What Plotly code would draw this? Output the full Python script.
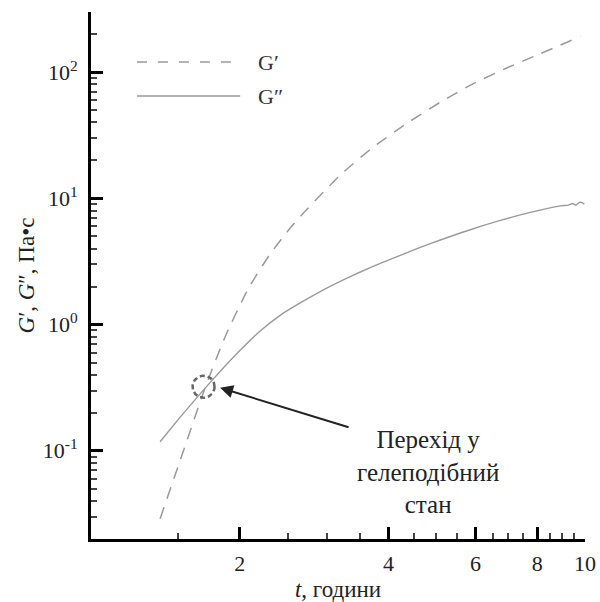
import math
import plotly.graph_objects as go

# ---- data ----
t_storage = [1.380, 1.529, 1.702, 1.868, 2.080, 2.305, 2.531, 2.739, 3.195, 3.727,
             4.367, 5.095, 5.94, 6.96, 8.12, 9.79]
G_storage = [0.029, 0.0929, 0.315, 0.798, 1.916, 3.625, 5.82, 8.23, 15.3, 25.5,
             39.5, 57.9, 81.1, 108.5, 140, 192]

t_loss = [1.380, 1.514, 1.663, 1.825, 2.004, 2.200, 2.415, 2.651, 2.911, 3.195, 3.508,
          3.851, 4.227, 4.640, 5.095, 5.593, 6.14, 6.74, 7.397, 8.12, 8.915,
          9.25, 9.44, 9.58, 9.72, 9.86, 9.97]
G_loss = [0.118, 0.1838, 0.2826, 0.425, 0.6255, 0.891, 1.184, 1.484, 1.827, 2.200, 2.611,
          3.054, 3.533, 4.089, 4.679, 5.316, 5.996, 6.688, 7.406, 8.08, 8.73,
          8.85, 9.10, 8.85, 9.27, 9.27, 9.0]

crossover_t = 1.69
crossover_G = 0.322
arrow_tip_t = 1.825
arrow_tip_G = 0.316

x_tickvals = [2, 4, 6, 8, 10]
x_ticktext = ["2", "4", "6", "8", "10"]
x_minor = [1.5, 2.5, 3, 3.5, 4.5, 5, 5.5, 6.5, 7, 7.5, 8.5, 9, 9.5]
y_tickvals = [0.1, 1, 10, 100]
y_ticktext = ["10<sup>-1</sup>", "10<sup>0</sup>", "10<sup>1</sup>", "10<sup>2</sup>"]
y_minor = [m * d for d in [0.01, 0.1, 1, 10, 100] for m in range(2, 10)]

FONT = "Times New Roman, Liberation Serif, DejaVu Serif, serif"
GRAY = "#9a9a9a"

W, H = 600, 602
M = dict(l=91, r=15, t=12, b=63)
x_range = [0, 1]
y_range = [math.log10(0.02), math.log10(300)]

fig = go.Figure()
fig.add_trace(go.Scatter(x=t_storage, y=G_storage, mode="lines", name="G′",
                         line=dict(color=GRAY, width=1.5, dash="12px,9px", shape="spline", smoothing=0.6),
                         showlegend=False))
fig.add_trace(go.Scatter(x=t_loss, y=G_loss, mode="lines", name="G″",
                         line=dict(color=GRAY, width=1.4, shape="spline", smoothing=0.4),
                         showlegend=False))

# dashed ring around the crossover point (radius given in screen pixels)
ring_px = 11
dec_per_px_x = (x_range[1] - x_range[0]) / (W - M["l"] - M["r"])
dec_per_px_y = (y_range[1] - y_range[0]) / (H - M["t"] - M["b"])
ring_t, ring_G = [], []
for k in range(73):
    a = 2 * math.pi * k / 72
    ring_t.append(10 ** (math.log10(crossover_t) + ring_px * dec_per_px_x * math.cos(a)))
    ring_G.append(10 ** (math.log10(crossover_G) + ring_px * dec_per_px_y * math.sin(a)))
fig.add_trace(go.Scatter(x=ring_t, y=ring_G, mode="lines", showlegend=False, hoverinfo="skip",
                         line=dict(color="#666666", width=2.5, dash="5px,3px")))

axis_common = dict(
    type="log", showline=True, linewidth=3, linecolor="black", mirror=False,
    showgrid=False, zeroline=False, ticks="inside", ticklen=12, tickwidth=2.5,
    tickcolor="black", tickfont=dict(family=FONT, size=22, color="#222"),
    automargin=False,
)

fig.update_xaxes(
    **axis_common, range=x_range, tickmode="array", tickvals=x_tickvals, ticktext=x_ticktext,
    ticklabelstandoff=3,
    minor=dict(tickmode="array", tickvals=x_minor, ticks="inside", ticklen=6,
               tickwidth=1.5, tickcolor="#444", showgrid=False),
    title=dict(text="<i>t</i>, години", font=dict(family=FONT, size=23, color="#222"), standoff=12),
)
fig.update_yaxes(
    **axis_common, range=y_range, tickmode="array",
    tickvals=y_tickvals, ticktext=y_ticktext, ticklabelstandoff=6,
    minor=dict(tickmode="array", tickvals=y_minor, ticks="inside", ticklen=6,
               tickwidth=1.5, tickcolor="#444", showgrid=False),
    title=dict(text="<i>G</i>′, <i>G</i>″, Па•с", font=dict(family=FONT, size=23, color="#222"), standoff=2),
)

shapes = [
    dict(type="line", xref="paper", yref="paper", x0=0.093, x1=0.302, y0=0.905, y1=0.905,
         line=dict(color=GRAY, width=1.5, dash="10px,11px")),
    dict(type="line", xref="paper", yref="paper", x0=0.093, x1=0.302, y0=0.8406, y1=0.8406,
         line=dict(color=GRAY, width=1.5)),
]

annotations = [
    dict(xref="paper", yref="paper", x=0.334, y=0.905, text="G′", showarrow=False,
         xanchor="left", yanchor="middle", font=dict(family=FONT, size=22, color="#333")),
    dict(xref="paper", yref="paper", x=0.334, y=0.8406, text="G″", showarrow=False,
         xanchor="left", yanchor="middle", font=dict(family=FONT, size=22, color="#333")),
    dict(xref="x", yref="y", x=math.log10(arrow_tip_t), y=math.log10(arrow_tip_G), text="",
         showarrow=True, ax=130, ay=40, axref="pixel", ayref="pixel",
         arrowhead=2, arrowsize=1.3, arrowwidth=2, arrowcolor="#222"),
    dict(xref="paper", yref="paper", x=0.682, y=0.128, text="Перехід у<br>гелеподібний<br>стан",
         showarrow=False, xanchor="center", yanchor="middle", align="center",
         font=dict(family=FONT, size=25, color="#222")),
]

fig.update_layout(
    width=W, height=H, margin=M,
    plot_bgcolor="white", paper_bgcolor="white", shapes=shapes, annotations=annotations,
    showlegend=False,
)

fig.write_html("out.html")
